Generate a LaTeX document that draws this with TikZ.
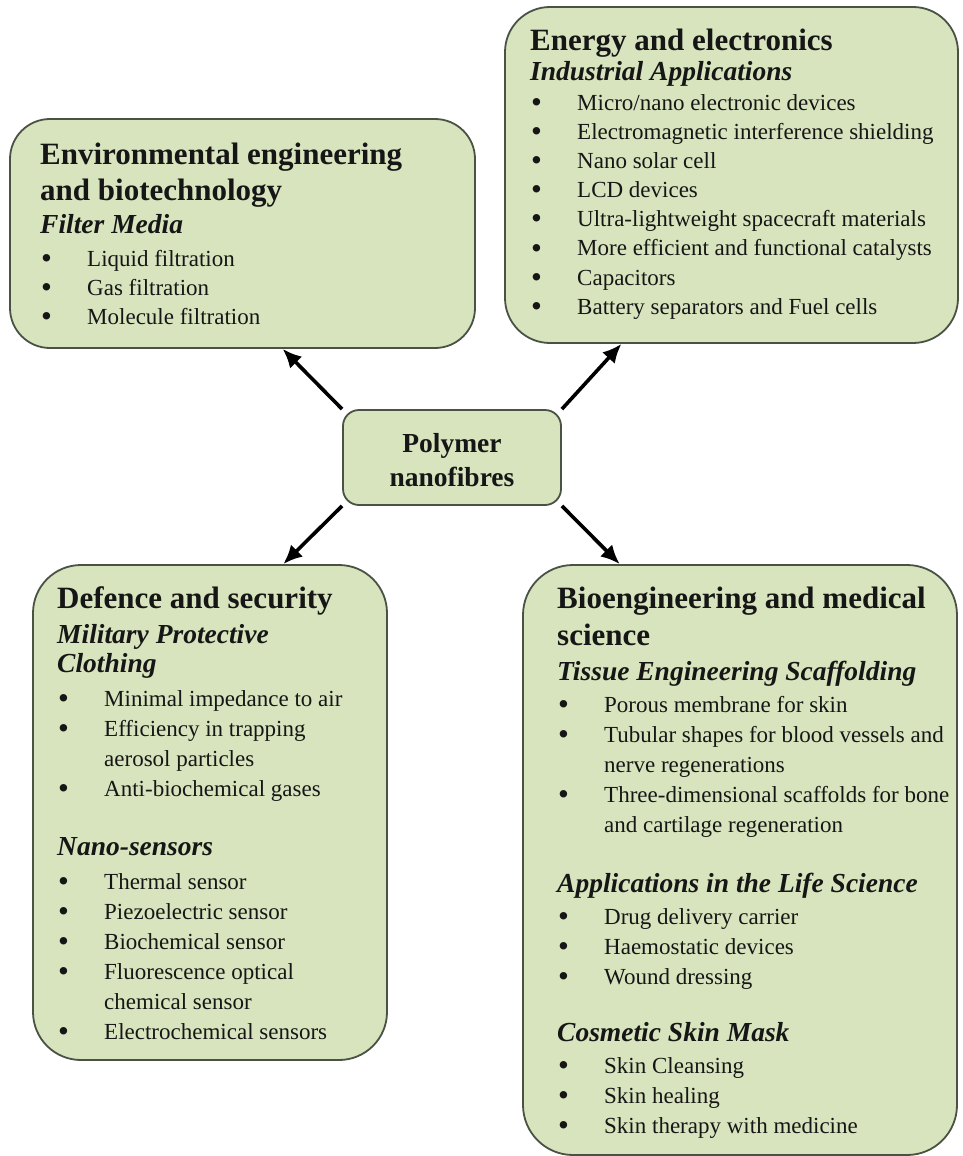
\documentclass[tikz,border=0pt]{standalone}
\usepackage{fontspec}
\setmainfont{Liberation Serif}
\usetikzlibrary{arrows.meta,calc}

\definecolor{boxfill}{HTML}{D7E4BD}
\definecolor{boxline}{HTML}{4A5145}
\definecolor{ink}{HTML}{161616}

% type sizes
\newcommand\fTitle{\fontsize{31}{37}\selectfont\bfseries}
\newcommand\fSub{\fontsize{27.5}{33}\selectfont\bfseries\itshape}
\newcommand\fItem{\fontsize{23}{29}\selectfont}
\newcommand\fCenter{\fontsize{27.5}{34}\selectfont\bfseries}

% one line of a text block, set #1pt below the previous baseline
\newcommand\LineAt[2]{\baselineskip=#1pt\hbox{#2}}
% list marker: a heavier dot than the font's own bullet
\newcommand\ItemDot{\raisebox{-2.2pt}{\fontsize{31}{31}\selectfont\textbullet}}
% bulleted line and its indented continuation
\newcommand\BulAt[2]{\baselineskip=#1pt\hbox{\fItem\hbox to 47pt{\hskip 1pt\ItemDot\hfil}#2}}
\newcommand\ContAt[2]{\baselineskip=#1pt\hbox{\fItem\hskip 47pt #2}}
% block whose reference point is the first baseline
\newcommand\ListBlock[1]{\vtop{\lineskiplimit=-1000pt\lineskip=0pt #1}}

\tikzset{
  gbox/.style={draw=boxline, fill=boxfill, line width=1.8pt, inner sep=0pt},
  blocktext/.style={anchor=base west, inner sep=0pt, text=ink},
  arr/.style={line width=3.6pt, draw=black, -{Latex[length=19pt,width=17pt]}},
}

\begin{document}
\begin{tikzpicture}[x=1pt, y=-1pt]
\fill[white] (0,0) rectangle (962,1156);
\useasboundingbox (0,0) rectangle (962,1156);

% boxes
\node[gbox, rounded corners=40pt, minimum width=465pt, minimum height=229pt] (tl) at (242.5,233.5) {};
\node[gbox, rounded corners=45pt, minimum width=453pt, minimum height=336pt] (tr) at (731.5,175) {};
\node[gbox, rounded corners=16pt, minimum width=218pt, minimum height=95pt] (c) at (452,457.5) {};
\node[gbox, rounded corners=48pt, minimum width=354pt, minimum height=495pt] (bl) at (210,812.5) {};
\node[gbox, rounded corners=50pt, minimum width=434pt, minimum height=590pt] (br) at (740,860) {};

% centre label
\node[text=ink, font=\fCenter, align=center, inner sep=0pt] (ct) at (452,460) {Polymer\\nanofibres};

% environmental engineering
\node[blocktext] (tlt) at (40,164) {\ListBlock{%
  \LineAt{0}{\fTitle Environmental engineering}
  \LineAt{36}{\fTitle and biotechnology}
  \LineAt{33}{\fSub Filter Media}
  \BulAt{33}{Liquid filtration}
  \BulAt{29}{Gas filtration}
  \BulAt{29}{Molecule filtration}
}};

% energy and electronics
\node[blocktext] (trt) at (530,51) {\ListBlock{%
  \LineAt{0}{\fTitle Energy and electronics}
  \LineAt{30}{\fSub Industrial Applications}
  \BulAt{29}{Micro/nano electronic devices}
  \BulAt{29.2}{Electromagnetic interference shielding}
  \BulAt{29.2}{Nano solar cell}
  \BulAt{29.2}{LCD devices}
  \BulAt{29.2}{Ultra-lightweight spacecraft materials}
  \BulAt{29.2}{More efficient and functional catalysts}
  \BulAt{29.2}{Capacitors}
  \BulAt{29.2}{Battery separators and Fuel cells}
}};

% defence and security
\node[blocktext] (blt) at (57,608) {\ListBlock{%
  \LineAt{0}{\fTitle Defence and security}
  \LineAt{35}{\fSub Military Protective}
  \LineAt{29}{\fSub Clothing}
  \BulAt{34}{Minimal impedance to air}
  \BulAt{30}{Efficiency in trapping}
  \ContAt{30}{aerosol particles}
  \BulAt{30}{Anti-biochemical gases}
  \LineAt{59}{\fSub Nano-sensors}
  \BulAt{34}{Thermal sensor}
  \BulAt{30}{Piezoelectric sensor}
  \BulAt{30}{Biochemical sensor}
  \BulAt{30}{Fluorescence optical}
  \ContAt{30}{chemical sensor}
  \BulAt{30}{Electrochemical sensors}
}};

% bioengineering and medical science
\node[blocktext] (brt) at (557,608) {\ListBlock{%
  \LineAt{0}{\fTitle Bioengineering and medical}
  \LineAt{37}{\fTitle science}
  \LineAt{35}{\fSub Tissue Engineering Scaffolding}
  \BulAt{32}{Porous membrane for skin}
  \BulAt{30}{Tubular shapes for blood vessels and}
  \ContAt{30}{nerve regenerations}
  \BulAt{30}{Three-dimensional scaffolds for bone}
  \ContAt{30}{and cartilage regeneration}
  \LineAt{60}{\fSub Applications in the Life Science}
  \BulAt{32}{Drug delivery carrier}
  \BulAt{30}{Haemostatic devices}
  \BulAt{30}{Wound dressing}
  \LineAt{57}{\fSub Cosmetic Skin Mask}
  \BulAt{32}{Skin Cleansing}
  \BulAt{30}{Skin healing}
  \BulAt{30}{Skin therapy with medicine}
}};

% arrow end points on the outer boxes
\coordinate (tlTip) at ($(tl.south west)!0.586!(tl.south east)$);
\coordinate (trTip) at ($(tr.south west)!0.258!(tr.south east)$);
\coordinate (blTip) at ($(bl.north west)!0.706!(bl.north east)$);
\coordinate (brTip) at ($(br.north west)!0.224!(br.north east)$);

\draw[arr] (c.north west) -- (tlTip);
\draw[arr] (c.north east) -- (trTip);
\draw[arr] (c.south west) -- (blTip);
\draw[arr] (c.south east) -- (brTip);
\end{tikzpicture}
\end{document}
